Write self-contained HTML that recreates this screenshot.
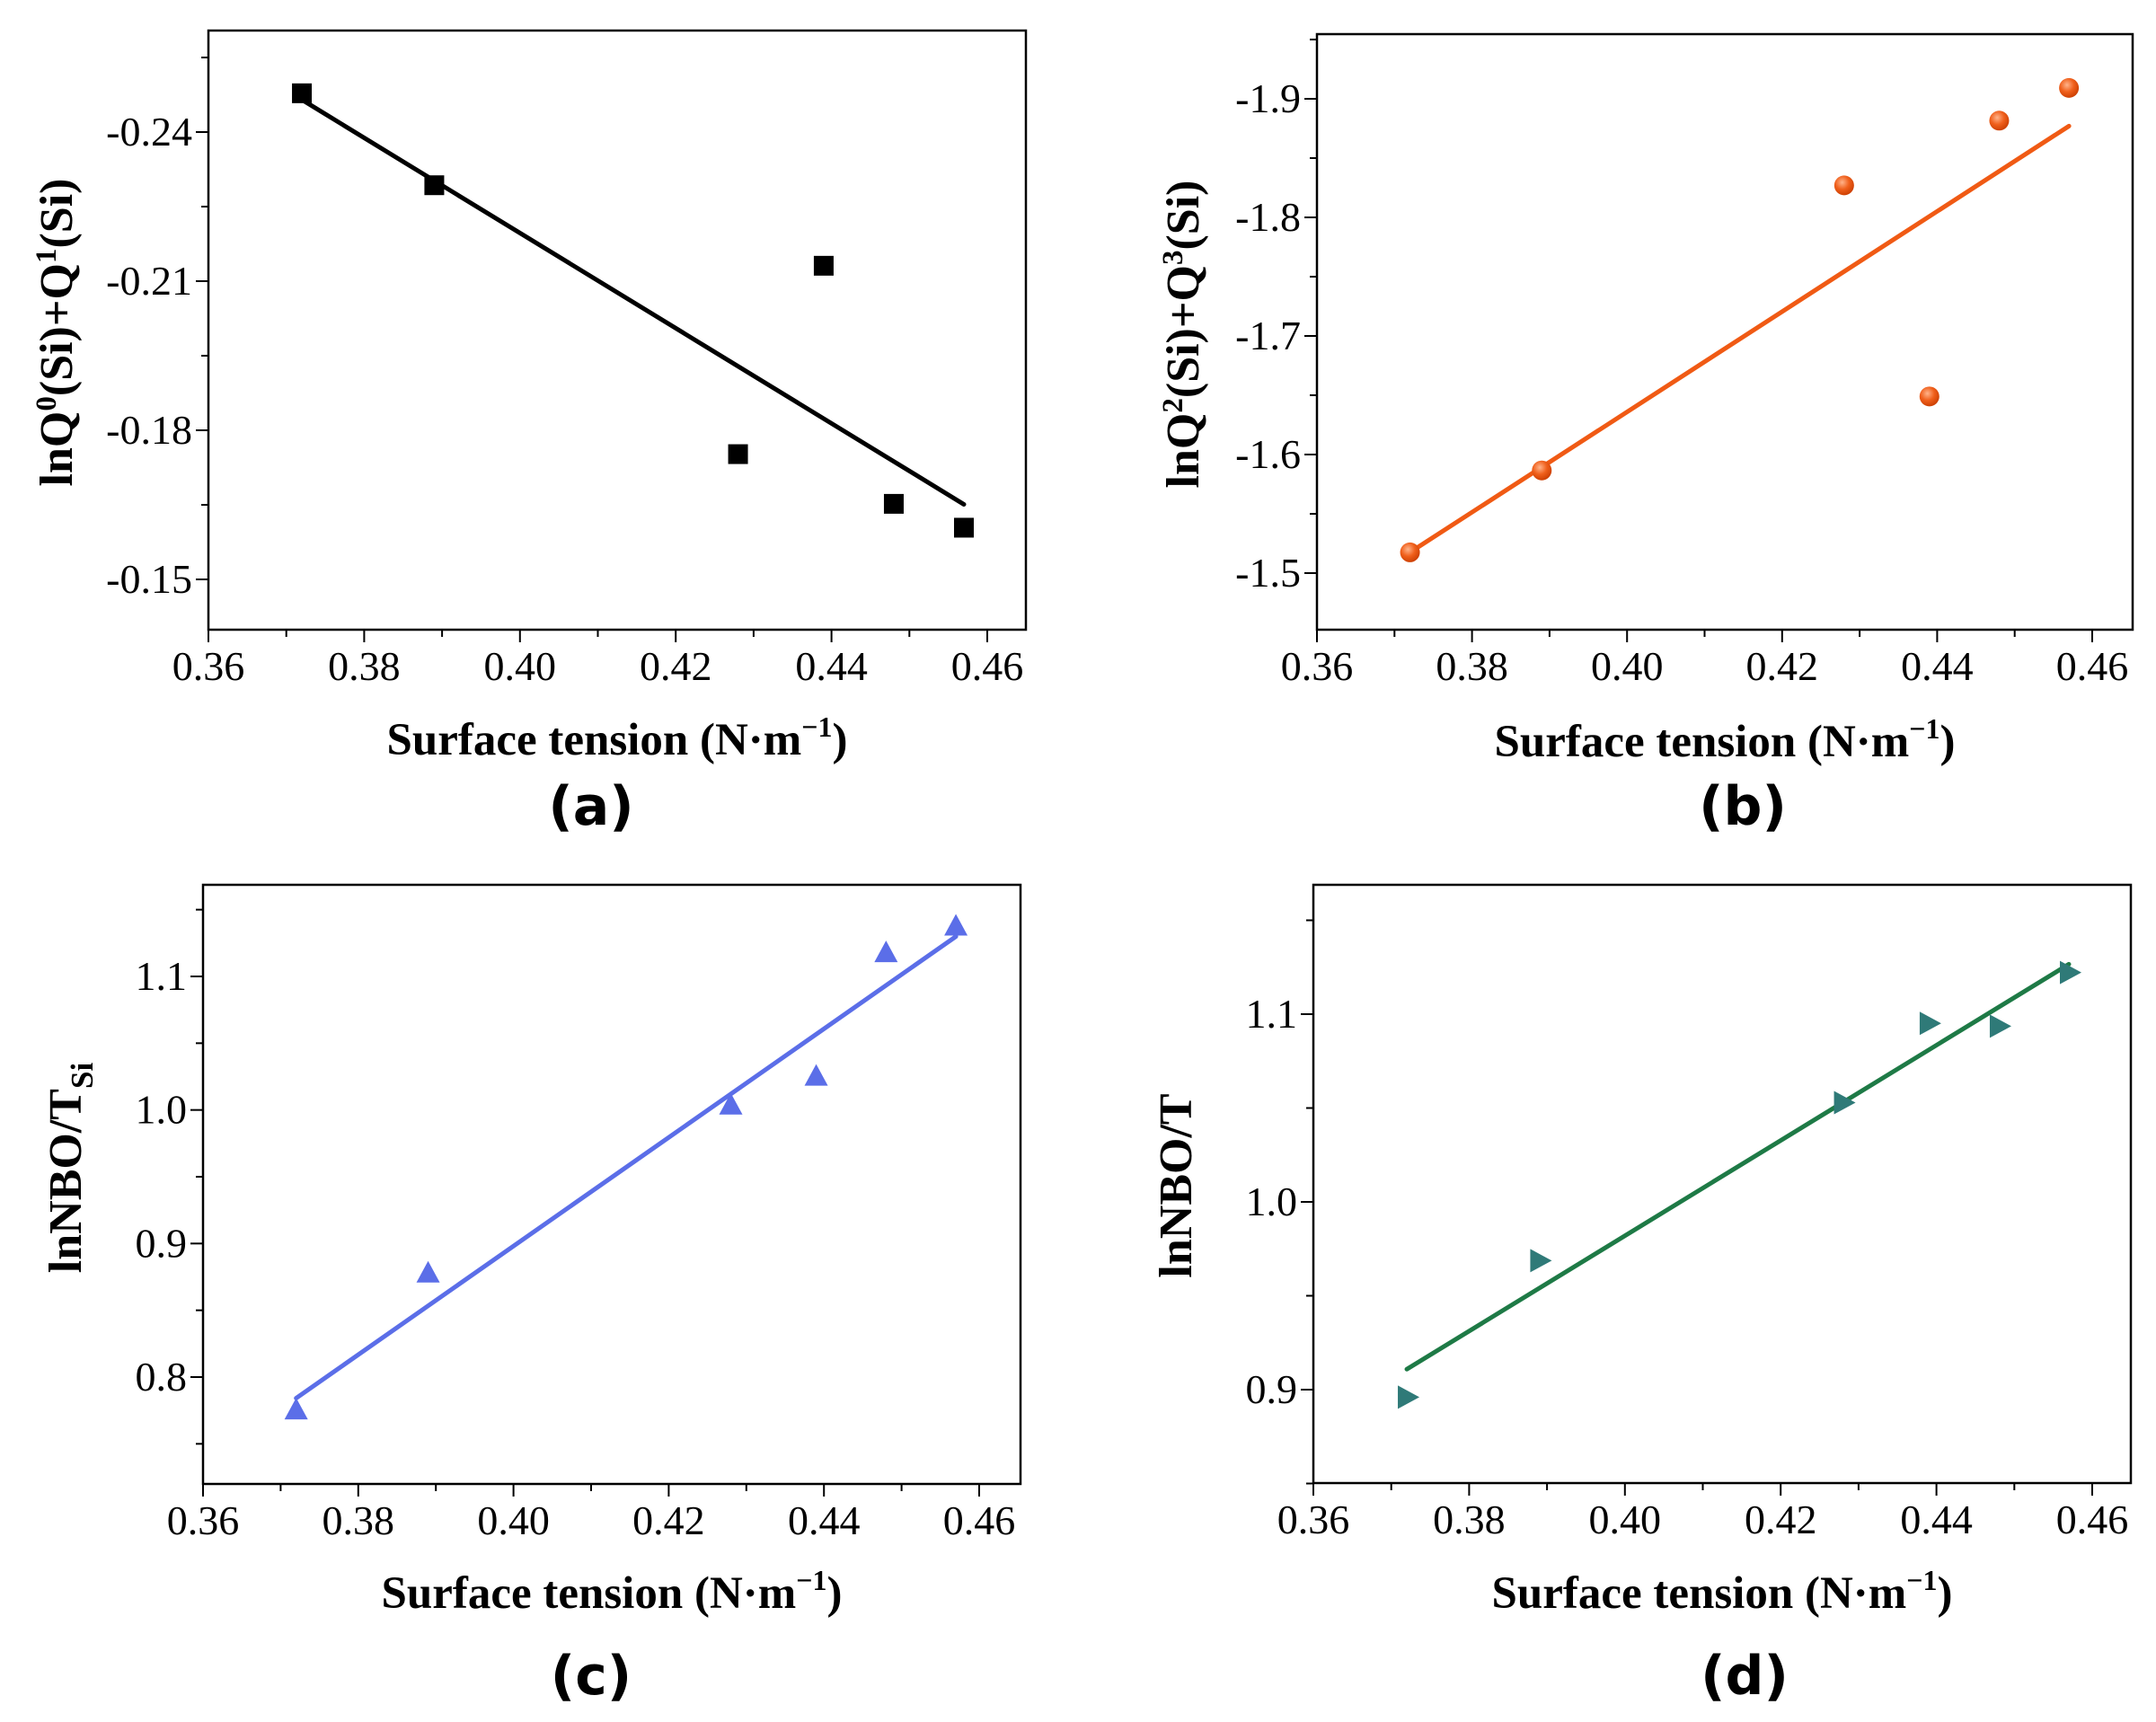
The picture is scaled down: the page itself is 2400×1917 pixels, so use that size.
<!DOCTYPE html>
<html><head><meta charset="utf-8"><style>
html,body{margin:0;padding:0;background:#fff;}
svg{display:block;}
text{font-family:"Liberation Serif",serif;}
</style></head><body>
<svg id="fig" width="2400" height="1917" viewBox="0 0 2400 1917" xmlns="http://www.w3.org/2000/svg">
<defs>
<radialGradient id="ball" cx="0.4" cy="0.35" r="0.7"><stop offset="0" stop-color="#ffb38a"/><stop offset="0.5" stop-color="#f0601c"/><stop offset="1" stop-color="#c83c00"/></radialGradient>
</defs>
</svg>
<script>
// shared x data
const xVals = [0.372, 0.389, 0.428, 0.439, 0.448, 0.457];
const xTicks = [0.36, 0.38, 0.40, 0.42, 0.44, 0.46];
const xTickLabels = ["0.36","0.38","0.40","0.42","0.44","0.46"];
// panel a
const aVals = [-0.2478, -0.2293, -0.1752, -0.2131, -0.1652, -0.1604];
const aFitX = [0.372, 0.457];
const aFitY = [-0.2465, -0.1651];
const aTicks = [-0.24, -0.21, -0.18, -0.15];
const aTickLabels = ["-0.24","-0.21","-0.18","-0.15"];
// panel b
const bVals = [-1.5175, -1.5866, -1.827, -1.649, -1.8816, -1.9092];
const bFitX = [0.372, 0.457];
const bFitY = [-1.5175, -1.877];
const bTicks = [-1.9, -1.8, -1.7, -1.6, -1.5];
const bTickLabels = ["-1.9","-1.8","-1.7","-1.6","-1.5"];
// panel c
const cVals = [0.775, 0.8775, 1.0033, 1.0249, 1.1174, 1.1373];
const cFitX = [0.372, 0.457];
const cFitY = [0.7842, 1.1299];
const cTicks = [0.8, 0.9, 1.0, 1.1];
const cTickLabels = ["0.8","0.9","1.0","1.1"];
// panel d
const dVals = [0.896, 0.9687, 1.0529, 1.0951, 1.0936, 1.1222];
const dFitX = [0.372, 0.457];
const dFitY = [0.9109, 1.1266];
const dTicks = [0.9, 1.0, 1.1];
const dTickLabels = ["0.9","1.0","1.1"];

const NS = "http://www.w3.org/2000/svg";
const svg = document.getElementById('fig');
function mk(tag, attrs, parent){
  const e = document.createElementNS(NS, tag);
  for (const k in attrs) e.setAttribute(k, attrs[k]);
  (parent||svg).appendChild(e);
  return e;
}

function panel(p){
  const g = mk('g', {});
  
  
  const sx = v => p.x0 + (v - 0.36) / 0.1 * (p.x46 - p.x0);
  const sy = v => p.t1y + (v - p.t1) / (p.t2 - p.t1) * (p.t2y - p.t1y);
  const fr = mk('rect', {x:p.left, y:p.top, width:p.right-p.left, height:p.bottom-p.top, fill:'none', stroke:'#000', 'stroke-width':2.5}, g);
  
  
  for (let v = 0.36; v <= 0.4651; v += 0.01) {
    const X = sx(v);
    const major = Math.round(v*100) % 2 === 0;
    mk('line', {x1:X, x2:X, y1:p.bottom, y2:p.bottom + (major?14:8), stroke:'#000', 'stroke-width':2}, g);
  }
  xTicks.forEach((v,i) => {
    const t = mk('text', {x:sx(v), y:p.bottom+56, 'font-size':46, 'text-anchor':'middle'}, g);
    t.textContent = xTickLabels[i];
    
    
  });
  const step = p.minor;
  const lo = Math.min(p.ymin, p.ymax), hi = Math.max(p.ymin, p.ymax);
  const startK = Math.ceil((lo - p.ticks[0]) / step - 1e-6);
  for (let k = startK; p.ticks[0] + k*step <= hi + 1e-9; k++) {
    const v = p.ticks[0] + k*step;
    const Y = sy(v);
    const major = k % 2 === 0;
    mk('line', {x1:p.left, x2:p.left - (major?14:8), y1:Y, y2:Y, stroke:'#000', 'stroke-width':2}, g);
  }
  p.ticks.forEach((v,i) => {
    const t = mk('text', {x:p.left-18, y:sy(v)+15, 'font-size':46, 'text-anchor':'end'}, g);
    t.textContent = p.tickLabels[i];
    
    
  });
  const fl = mk('line', {x1:sx(p.fitX[0]), y1:sy(p.fitY[0]), x2:sx(p.fitX[1]), y2:sy(p.fitY[1]), stroke:p.lineColor, 'stroke-width':5, 'stroke-linecap':'round'}, g);
  
  
  xVals.forEach((xv,i) => {
    const X = sx(xv), Y = sy(p.vals[i]);
    let m;
    if (p.marker === 'square') m = mk('rect', {x:X-11, y:Y-11, width:22, height:22, fill:'#000'}, g);
    else if (p.marker === 'circle') m = mk('circle', {cx:X, cy:Y, r:11, fill:'url(#ball)'}, g);
    else if (p.marker === 'tri-up') m = mk('polygon', {points:`${X},${Y-14} ${X-13},${Y+10} ${X+13},${Y+10}`, fill:'#5b6ee8'}, g);
    else m = mk('polygon', {points:`${X-10},${Y-13} ${X+14},${Y} ${X-10},${Y+13}`, fill:'#2f7a78'}, g);
    
    
  });
  const xt = mk('text', {x:p.xtX, y:p.xtY, 'font-size':51, 'font-weight':'bold', 'text-anchor':'middle'}, g);
  xt.innerHTML = 'Surface tension (N·m<tspan dy="-20" font-size="32">−1</tspan><tspan dy="20">)</tspan>';
  
  
  const yt = mk('text', {x:0, y:0, 'font-size':52, 'font-weight':'bold', 'text-anchor':'middle', transform:`translate(${p.ytX},${p.ytY}) rotate(-90)`}, g);
  yt.innerHTML = p.ytitle;
  
  
  const pl = mk('text', {x:p.plX, y:p.plY, 'font-size':60, 'font-weight':'bold', 'text-anchor':'middle', style:'font-family:"DejaVu Sans",sans-serif'}, g);
  pl.textContent = '(' + p.id + ')';
  
  
}

panel({id:'a', left:232, right:1142, top:34, bottom:701, x0:232, x46:1099,
  t1:-0.24, t1y:147, t2:-0.15, t2y:645, ymin:-0.2613, ymax:-0.1398, minor:0.015,
  ticks:aTicks, tickLabels:aTickLabels, vals:aVals, fitX:aFitX, fitY:aFitY, lineColor:'#000', marker:'square',
  xtX:687, xtY:840, ytX:80, ytY:370, plX:658, plY:918,
  ytitle:'lnQ<tspan dy="-18" font-size="33">0</tspan><tspan dy="18">(Si)+Q</tspan><tspan dy="-18" font-size="33">1</tspan><tspan dy="18">(Si)</tspan>'});
panel({id:'b', left:1466, right:2374, top:38, bottom:701, x0:1466, x46:2329,
  t1:-1.9, t1y:110, t2:-1.5, t2y:638, ymin:-1.9545, ymax:-1.455, minor:0.05,
  ticks:bTicks, tickLabels:bTickLabels, vals:bVals, fitX:bFitX, fitY:bFitY, lineColor:'#f05a14', marker:'circle',
  xtX:1920, xtY:842, ytX:1334, ytY:372, plX:1940, plY:918,
  ytitle:'lnQ<tspan dy="-18" font-size="33">2</tspan><tspan dy="18">(Si)+Q</tspan><tspan dy="-18" font-size="33">3</tspan><tspan dy="18">(Si)</tspan>'});
panel({id:'c', left:226, right:1136, top:985, bottom:1652, x0:226, x46:1090,
  t1:1.1, t1y:1087, t2:0.8, t2y:1533, ymin:0.72, ymax:1.1686, minor:0.05,
  ticks:cTicks, tickLabels:cTickLabels, vals:cVals, fitX:cFitX, fitY:cFitY, lineColor:'#5b6ee8', marker:'tri-up',
  xtX:681, xtY:1790, ytX:90, ytY:1300, plX:658, plY:1886,
  ytitle:'lnNBO/T<tspan dy="13" font-size="35">Si</tspan>'});
panel({id:'d', left:1462, right:2372, top:985, bottom:1651, x0:1462, x46:2329,
  t1:1.1, t1y:1129, t2:0.9, t2y:1547, ymin:0.85, ymax:1.1689, minor:0.05,
  ticks:dTicks, tickLabels:dTickLabels, vals:dVals, fitX:dFitX, fitY:dFitY, lineColor:'#1e7a46', marker:'tri-right',
  xtX:1917, xtY:1790, ytX:1326, ytY:1320, plX:1942, plY:1886,
  ytitle:'lnNBO/T'});
</script>
</body></html>
